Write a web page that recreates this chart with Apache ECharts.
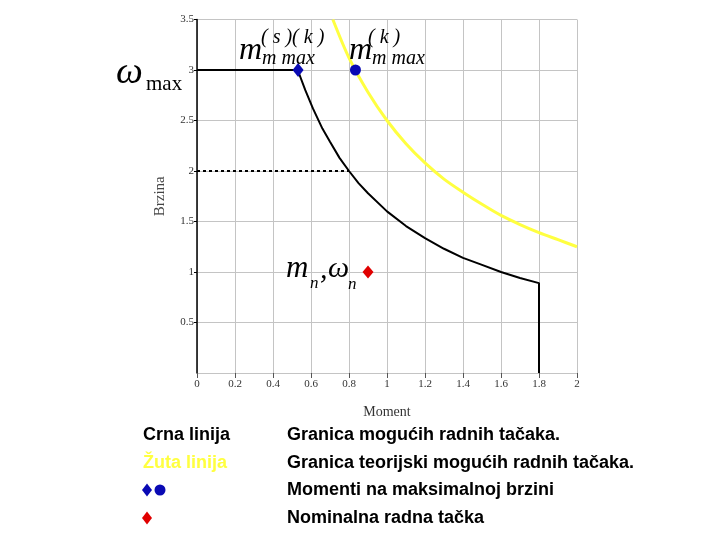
<!DOCTYPE html>
<html>
<head>
<meta charset="utf-8">
<script src="https://cdn.jsdelivr.net/npm/echarts@6/dist/echarts.min.js"></script>
<style>html,body{margin:0;padding:0;background:#fff}#c{width:720px;height:540px}</style>
</head>
<body>
<div id="c"></div>
<script>
// Data
var xTicks = [0, 0.2, 0.4, 0.6, 0.8, 1, 1.2, 1.4, 1.6, 1.8, 2];
var yTicks = [0, 0.5, 1, 1.5, 2, 2.5, 3, 3.5];
var blackMoment = [0, 0.53, 0.57, 0.61, 0.66, 0.7, 0.75, 0.8, 0.85, 0.9, 1.0, 1.1, 1.2, 1.3, 1.4, 1.5, 1.6, 1.7, 1.8, 1.8];
var blackSpeed  = [3, 3, 2.8, 2.62, 2.42, 2.29, 2.13, 2.0, 1.88, 1.78, 1.6, 1.455, 1.335, 1.23, 1.14, 1.07, 1.0, 0.94, 0.89, 0];
var yellowMoment = [0.715, 0.8, 0.9, 1.0, 1.1, 1.2, 1.3, 1.4, 1.5, 1.6, 1.7, 1.8, 1.9, 2.0];
var yellowSpeed  = [3.5, 3.12, 2.78, 2.5, 2.27, 2.08, 1.92, 1.79, 1.67, 1.56, 1.47, 1.39, 1.32, 1.25];
var dottedMoment = [0, 0.8];
var dottedSpeed = [2, 2];
var maxDiamond = [0.532, 3];
var maxCircle = [0.834, 3];
var nominalPoint = [0.9, 1.0];
var legendLabels = ['Crna linija', 'Žuta linija'];
var legendTexts = ['Granica mogućih radnih tačaka.', 'Granica teorijski mogućih radnih tačaka.', 'Momenti na maksimalnoj brzini', 'Nominalna radna tačka'];

function zip(a, b) { return a.map(function (v, i) { return [v, b[i]]; }); }

var serif = '"Liberation Serif", "DejaVu Serif", serif';
var sans = '"Liberation Sans", Arial, sans-serif';

function txt(x, y, text, font, fill, align) {
  return { type: 'text', x: x, y: y, z: 100,
    style: { text: text, font: font, fill: fill || '#000', align: align || 'left', verticalAlign: 'middle' } };
}
function diamond(cx, cy, w, h, color) {
  return { type: 'polygon', z: 100, shape: { points: [[cx, cy - h / 2], [cx + w / 2, cy], [cx, cy + h / 2], [cx - w / 2, cy]] }, style: { fill: color } };
}

var chart = echarts.init(document.getElementById('c'), null, { renderer: 'canvas' });
chart.setOption({
  backgroundColor: '#fff',
  animation: false,
  grid: { left: 197, top: 19.5, width: 380, height: 353.5, containLabel: false },
  xAxis: {
    type: 'value', min: 0, max: 2, interval: 0.2,
    name: 'Moment', nameLocation: 'middle', nameGap: 32,
    nameTextStyle: { fontFamily: serif, fontSize: 14, color: '#333' },
    axisLine: { show: false },
    axisTick: { show: true, length: 5, lineStyle: { color: '#555' } },
    axisLabel: { fontFamily: serif, fontSize: 11, color: '#333', margin: 6,
      formatter: function (v) { return String(Math.round(v * 10) / 10); } },
    splitLine: { show: true, lineStyle: { color: '#c4c4c4', width: 1 } }
  },
  yAxis: {
    type: 'value', min: 0, max: 3.5, interval: 0.5,
    name: 'Brzina', nameLocation: 'middle', nameGap: 29,
    nameTextStyle: { fontFamily: serif, fontSize: 15, color: '#444' },
    axisLine: { show: true, lineStyle: { color: '#000', width: 1.5 } },
    axisTick: { show: true, length: 3, lineStyle: { color: '#000' } },
    axisLabel: { fontFamily: serif, fontSize: 11, color: '#333', margin: 3, showMinLabel: false },
    splitLine: { show: true, lineStyle: { color: '#c4c4c4', width: 1 } }
  },
  series: [
    { type: 'line', data: zip(yellowMoment, yellowSpeed), smooth: 0.3, showSymbol: false,
      lineStyle: { color: '#ffff40', width: 3 }, z: 2 },
    { type: 'line', data: zip(dottedMoment, dottedSpeed), showSymbol: false,
      lineStyle: { color: '#000', width: 2, type: [3, 3] }, z: 3 },
    { type: 'line', data: zip(blackMoment, blackSpeed), showSymbol: false,
      lineStyle: { color: '#000', width: 2 }, z: 4 },
    { type: 'scatter', data: [maxDiamond], symbol: 'diamond', symbolSize: [11, 14],
      itemStyle: { color: '#0a0ab4', opacity: 1 }, z: 5 },
    { type: 'scatter', data: [maxCircle], symbol: 'circle', symbolSize: 11,
      itemStyle: { color: '#0a0ab4', opacity: 1 }, z: 5 },
    { type: 'scatter', data: [nominalPoint], symbol: 'diamond', symbolSize: [11, 13],
      itemStyle: { color: '#e00000', opacity: 1 }, z: 5 }
  ],
  graphic: [
    // omega_max
    txt(116, 73, 'ω', 'italic 38px ' + serif),
    txt(146, 84, 'max', '21px ' + serif),
    // m^{(s)(k)}_{m max}
    txt(239, 51, 'm', 'italic 32px ' + serif),
    txt(261, 38, '( s )( k )', 'italic 20px ' + serif),
    txt(262, 59, 'm max', 'italic 20px ' + serif),
    // m^{(k)}_{m max}
    txt(349, 51, 'm', 'italic 32px ' + serif),
    txt(368, 38, '( k )', 'italic 20px ' + serif),
    txt(372, 59, 'm max', 'italic 20px ' + serif),
    // m_n , omega_n
    txt(286, 269, 'm', 'italic 31px ' + serif),
    txt(310, 284, 'n', 'italic 17px ' + serif),
    txt(320, 270, ',', 'italic 30px ' + serif),
    txt(328, 269, 'ω', 'italic 30px ' + serif),
    txt(348, 285, 'n', 'italic 17px ' + serif),
    // legend block
    txt(143, 435, legendLabels[0], 'bold 18px ' + sans, '#000'),
    txt(143, 463, legendLabels[1], 'bold 18px ' + sans, '#ffff40'),
    txt(287, 435, legendTexts[0], 'bold 18px ' + sans, '#000'),
    txt(287, 463, legendTexts[1], 'bold 18px ' + sans, '#000'),
    txt(287, 490, legendTexts[2], 'bold 18px ' + sans, '#000'),
    txt(287, 518, legendTexts[3], 'bold 18px ' + sans, '#000'),
    diamond(147, 490, 10, 13, '#0a0ab4'),
    { type: 'circle', z: 100, shape: { cx: 160, cy: 490, r: 5.5 }, style: { fill: '#0a0ab4' } },
    diamond(147, 518, 10, 13, '#e00000')
  ]
});
</script>
</body>
</html>
